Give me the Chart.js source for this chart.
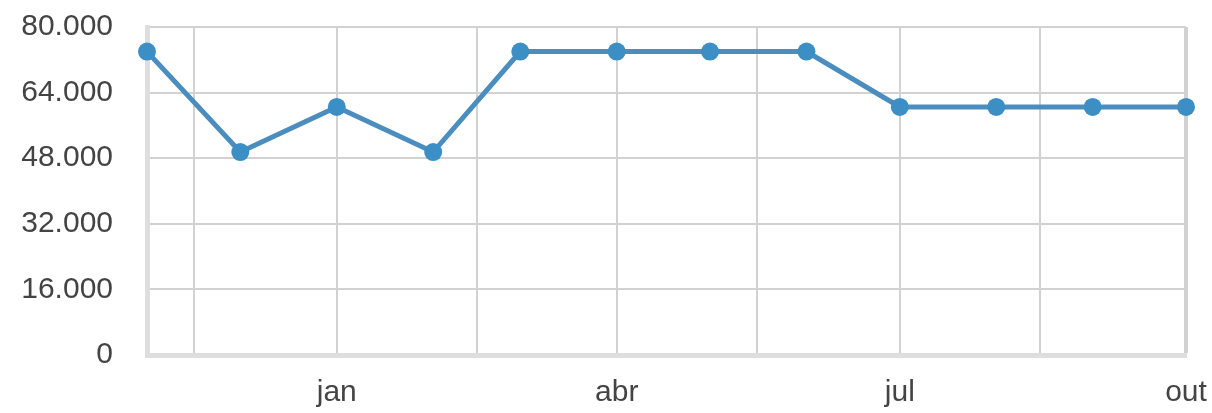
<!DOCTYPE html>
<html>
<head>
<meta charset="utf-8">
<script src="https://cdn.jsdelivr.net/npm/chart.js@4/dist/chart.umd.min.js"></script>
<style>
  html, body { margin: 0; padding: 0; background: #fff; }
  #wrap { width: 1212px; height: 413px; position: relative; }
</style>
</head>
<body>
<div id="wrap"><canvas id="chart"></canvas></div>
<script>
// monthly values (first day of each month)
const dates = ['2012-11-01', '2012-12-01', '2013-01-01', '2013-02-01', '2013-03-01', '2013-04-01',
               '2013-05-01', '2013-06-01', '2013-07-01', '2013-08-01', '2013-09-01', '2013-10-01'];
const values = [74000, 49500, 60500, 49500, 74000, 74000, 74000, 74000, 60500, 60500, 60500, 60500];

// x gridlines and their labels
const gridDates = ['2012-11-16', '2013-01-01', '2013-02-15', '2013-04-01',
                   '2013-05-16', '2013-07-01', '2013-08-15', '2013-10-01'];
const gridLabels = ['', 'jan', '', 'abr', '', 'jul', '', 'out'];

const yTicks = [0, 16000, 32000, 48000, 64000, 80000];

const start = Date.parse(dates[0]);
const toDay = d => (Date.parse(d) - start) / 864e5;

const points = dates.map((d, i) => ({ x: toDay(d), y: values[i] }));
const gridDays = gridDates.map(toDay);
const lastDay = toDay(dates[dates.length - 1]);

function fmt(v) {
    return String(v).replace(/\B(?=(\d{3})+(?!\d))/g, '.');
}

const ctx = document.getElementById('chart').getContext('2d');
new Chart(ctx, {
    type: 'line',
    data: {
        datasets: [{
            data: points,
            borderColor: '#4a8dbe',
            backgroundColor: '#3b8fc4',
            borderWidth: 5,
            pointRadius: 9,
            pointBorderWidth: 0,
            pointBackgroundColor: '#3b8fc4',
            tension: 0,
            clip: false
        }]
    },
    options: {
        responsive: true,
        maintainAspectRatio: false,
        animation: false,
        layout: {
            padding: { top: 27, right: 26, left: 0, bottom: 0 }
        },
        plugins: {
            legend: { display: false },
            tooltip: { enabled: false }
        },
        scales: {
            x: {
                type: 'linear',
                min: 0,
                max: lastDay,
                afterBuildTicks: scale => {
                    scale.ticks = gridDays.map(v => ({ value: v }));
                },
                afterFit: scale => {
                    scale.height = 58;
                    scale.paddingLeft = 0;
                    scale.paddingRight = 0;
                },
                ticks: {
                    autoSkip: false,
                    maxRotation: 0,
                    padding: 20,
                    color: '#444',
                    font: { family: 'Liberation Sans, Arial, sans-serif', size: 30 },
                    callback: (v, i) => gridLabels[i]
                },
                grid: {
                    color: '#d2d2d2',
                    lineWidth: c => (c.index === gridDays.length - 1 ? 4 : 2),
                    drawTicks: false
                },
                border: { color: '#dedede', width: 5 }
            },
            y: {
                min: 0,
                max: 80000,
                afterBuildTicks: scale => {
                    scale.ticks = yTicks.map(v => ({ value: v }));
                },
                afterFit: scale => {
                    scale.width = 147;
                    scale.paddingTop = 0;
                    scale.paddingBottom = 0;
                },
                ticks: {
                    padding: 34,
                    color: '#444',
                    font: { family: 'Liberation Sans, Arial, sans-serif', size: 30 },
                    callback: v => fmt(v)
                },
                grid: {
                    color: '#d2d2d2',
                    lineWidth: 2,
                    drawTicks: false
                },
                border: { color: '#dedede', width: 5 }
            }
        }
    }
});
</script>
</body>
</html>
